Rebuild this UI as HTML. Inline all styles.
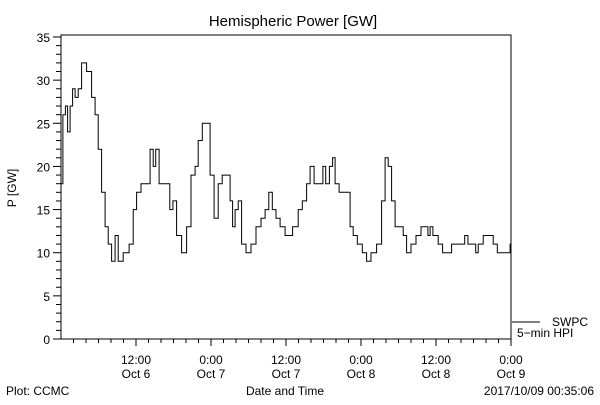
<!DOCTYPE html>
<html><head><meta charset="utf-8"><style>
body{margin:0;background:#fff;}
svg text{font-family:"Liberation Sans",sans-serif;fill:#000;}
</style></head><body>
<svg id="chart" width="600" height="400" viewBox="0 0 600 400" xmlns="http://www.w3.org/2000/svg">
<rect width="600" height="400" fill="#fff"/>
<text x="293" y="26" font-size="15" text-anchor="middle">Hemispheric Power [GW]</text>
<text transform="translate(16,188) rotate(-90)" font-size="12" text-anchor="middle">P [GW]</text>
<rect x="61" y="35" width="450" height="304" fill="none" stroke="#000" stroke-width="1"/>
<line x1="511" y1="339" x2="511" y2="346" stroke="#000"/>
<g id="yaxis"></g>
<g id="xaxis"></g>
<path id="series" fill="none" stroke="#000" stroke-width="1"/>
<line x1="512" y1="322" x2="540" y2="322" stroke="#000"/>
<text x="552" y="326" font-size="12">SWPC</text>
<text x="517" y="337" font-size="12">5−min HPI</text>
<text x="285" y="395" font-size="12" text-anchor="middle">Date and Time</text>
<text x="6" y="395" font-size="12">Plot: CCMC</text>
<text x="594" y="395" font-size="12" text-anchor="end">2017/10/09 00:35:06</text>
</svg>
<script>
const yTicks=[0,5,10,15,20,25,30,35];
const xTickHours=[12,24,36,48,60,72];
const xTickTime=["12:00","0:00","12:00","0:00","12:00","0:00"];
const xTickDate=["Oct 6","Oct 7","Oct 7","Oct 8","Oct 8","Oct 9"];
const times=[0.1,0.5,0.9,1.2,1.7,2.0,2.5,3.0,3.6,4.6,5.2,5.7,6.2,6.8,7.3,7.8,8.4,8.9,9.4,10.5,11.3,11.8,12.4,13.2,14.0,14.5,15.0,15.3,16.1,17.2,17.6,18.2,18.8,19.8,20.4,21.2,21.7,22.2,23.0,23.6,24.1,24.9,25.4,26.2,26.8,27.3,27.6,28.1,28.6,29.2,30.0,30.8,31.6,32.4,32.9,33.6,34.0,34.8,35.3,36.4,37.7,38.2,39.0,39.6,40.1,40.9,41.7,42.1,42.6,43.3,43.6,44.1,44.9,46.0,46.5,47.0,47.8,48.6,49.2,50.0,51.0,51.6,52.1,52.6,53.2,53.7,54.5,55.0,55.6,56.4,57.2,58.0,58.5,58.9,59.2,59.8,60.9,61.2,62.2,62.8,64.4,64.8,65.4,66.2,66.5,67.0,68.1,68.9,69.4,70.2,71.7,72.0];
const values=[18,26,27,24,27,29,28,29,32,31,28,26,22,17,13,11,9,12,9,10,11,15,17,18,18,22,20,22,18,18,15,16,12,10,13,19,20,23,25,25,19,14,18,19,19,16,13,15,16,11,10,11,13,14,15,17,15,14,13,12,13,15,16,18,20,18,18,20,18,20,21,18,17,17,13,12,11,10,9,10,11,16,21,20,16,13,13,12,10,11,12,13,13,12,13,12,11,10,10,11,11,12,11,11,10,11,12,12,11,10,10,11];
const X0=61,X1=511,Y0=339,Y1=37;
const xs=h=>X0+(h/72)*(X1-X0);
const ys=v=>Y0-(v/35)*(Y0-Y1);
const NS="http://www.w3.org/2000/svg";
function mk(tag,attrs,parent){const e=document.createElementNS(NS,tag);for(const k in attrs)e.setAttribute(k,attrs[k]);parent.appendChild(e);return e;}
const ya=document.getElementById('yaxis');
for(let v=0;v<=35;v++){
  const y=ys(v);const major=v%5===0;
  const t=mk('line',{x1:X0-(major?8:5),x2:X0,y1:y,y2:y,stroke:'#000'},ya);
  
  
}
yTicks.forEach(v=>{
  const t=mk('text',{x:50,y:ys(v)+5,'font-size':'12','text-anchor':'end'},ya);
  t.textContent=v;
  
  
});
const xa=document.getElementById('xaxis');
for(let h=2;h<=72;h+=2){
  const x=xs(h);const major=h%12===0;
  const t=mk('line',{x1:x,x2:x,y1:Y0,y2:Y0+(major?7:4),stroke:'#000'},xa);
  
  
}
xTickHours.forEach((h,i)=>{
  const a=mk('text',{x:xs(h),y:364,'font-size':'12','text-anchor':'middle'},xa);
  a.textContent=xTickTime[i];
  
  
  const b=mk('text',{x:xs(h),y:378,'font-size':'12','text-anchor':'middle'},xa);
  b.textContent=xTickDate[i];
  
  
});
let d='M'+xs(0).toFixed(1)+','+ys(values[0]).toFixed(1);
for(let i=1;i<times.length;i++){
  const m=(times[i-1]+times[i])/2;
  d+=' H'+xs(m).toFixed(1)+' V'+ys(values[i]).toFixed(1);
}
d+=' H'+xs(times[times.length-1]).toFixed(1);
document.getElementById('series').setAttribute('d',d);
</script>
</body></html>
